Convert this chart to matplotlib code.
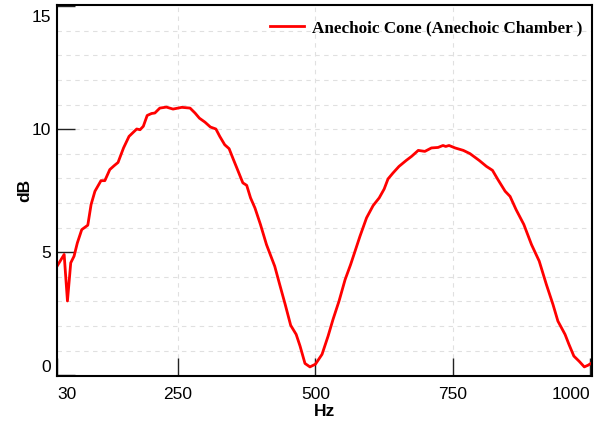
import numpy as np
import matplotlib
matplotlib.use('Agg')
import matplotlib.pyplot as plt
from matplotlib.transforms import ScaledTranslation

freq_hz = [30, 43, 49, 55, 61, 67, 75, 86, 92, 99, 110, 117, 126, 134, 141, 151,
           161, 175, 181, 187, 194, 202, 208, 217, 229, 241, 257, 272, 281, 289,
           299, 309, 319, 326, 335, 343, 351, 357, 368, 375, 382, 390, 400, 411,
           426, 435, 445, 455, 465, 472, 481, 490, 500, 512, 523, 532, 543, 554,
           564, 572, 581, 593, 605, 616, 625, 632, 641, 652, 665, 675, 687, 699,
           711, 723, 732, 737, 743, 754, 769, 781, 798, 811, 822, 832, 845, 854,
           865, 879, 893, 907, 920, 932, 941, 954, 961, 970, 980, 989, 996, 1003]
level_db = [4.43, 4.91, 3.02, 4.57, 4.84, 5.38, 5.92, 6.10, 6.94, 7.48, 7.91, 7.91,
            8.36, 8.52, 8.65, 9.24, 9.71, 10.01, 9.98, 10.12, 10.56, 10.64, 10.66,
            10.86, 10.90, 10.82, 10.89, 10.86, 10.66, 10.45, 10.29, 10.09, 10.01,
            9.71, 9.37, 9.21, 8.76, 8.43, 7.82, 7.72, 7.21, 6.80, 6.13, 5.31, 4.43,
            3.69, 2.88, 2.03, 1.66, 1.19, 0.48, 0.34, 0.45, 0.85, 1.59, 2.27, 3.02,
            3.89, 4.50, 5.04, 5.65, 6.40, 6.90, 7.21, 7.57, 7.98, 8.22, 8.49, 8.73,
            8.90, 9.14, 9.10, 9.24, 9.26, 9.34, 9.30, 9.34, 9.24, 9.14, 9.01, 8.73,
            8.49, 8.33, 7.95, 7.48, 7.27, 6.73, 6.13, 5.31, 4.64, 3.69, 2.88, 2.20,
            1.66, 1.26, 0.78, 0.56, 0.34, 0.41, 0.51]

x_ticks = [30, 250, 500, 750, 1000]
y_ticks = [0, 5, 10, 15]
series_label = 'Anechoic Cone (Anechoic Chamber )'

plt.rcParams['font.family'] = ['Liberation Sans', 'DejaVu Sans']

fig = plt.figure(figsize=(6.01, 4.25), dpi=100)
ax = fig.add_axes([57 / 601, 1 - 376 / 425, 535 / 601, 371 / 425])

ax.plot(freq_hz, level_db, color='#ff0000', lw=2.0, label=series_label)

ax.set_xlim(30, 1003)
ax.set_ylim(-0.03, 15.05)

# grid: every dB horizontally, major x ticks vertically
for v in range(1, 15):
    ax.axhline(v, color='#e0e0e0', lw=0.8, ls=(0, (4, 4)), zorder=0)
for v in [250, 500, 750]:
    ax.axvline(v, color='#e0e0e0', lw=0.8, ls=(0, (4, 4)), zorder=0)

ax.set_xticks(x_ticks)
ax.set_yticks(y_ticks)
ax.set_xticklabels([str(t) for t in x_ticks])
ax.set_yticklabels([str(t) for t in y_ticks])
ax.tick_params(direction='in', length=13, width=1.0, color='#222222',
               labelsize=12.5, pad=4)
ax.tick_params(axis='x', pad=8)

xl = ax.get_xticklabels()
xl[0].set_ha('left')
xl[-1].set_ha('right')
yl = ax.get_yticklabels()
yl[0].set_va('bottom')
yl[-1].set_va('top')
yl[-1].set_transform(yl[-1].get_transform() +
                     ScaledTranslation(0, -4 / 100, fig.dpi_scale_trans))

for s in ax.spines.values():
    s.set_linewidth(1.5)

ax.set_xlabel('Hz', fontsize=12.5, fontweight='bold', labelpad=1)
ax.set_ylabel('dB', fontsize=12.5, fontweight='bold', labelpad=0)

ax.legend(loc='center right', bbox_to_anchor=(582 / 601, 1 - 28 / 425),
          bbox_transform=fig.transFigure, frameon=False, borderpad=0,
          borderaxespad=0, handlelength=2.0, handletextpad=0.45,
          prop={'family': 'Liberation Serif', 'weight': 'bold', 'size': 12.3})

fig.savefig('out.png', dpi=100)
